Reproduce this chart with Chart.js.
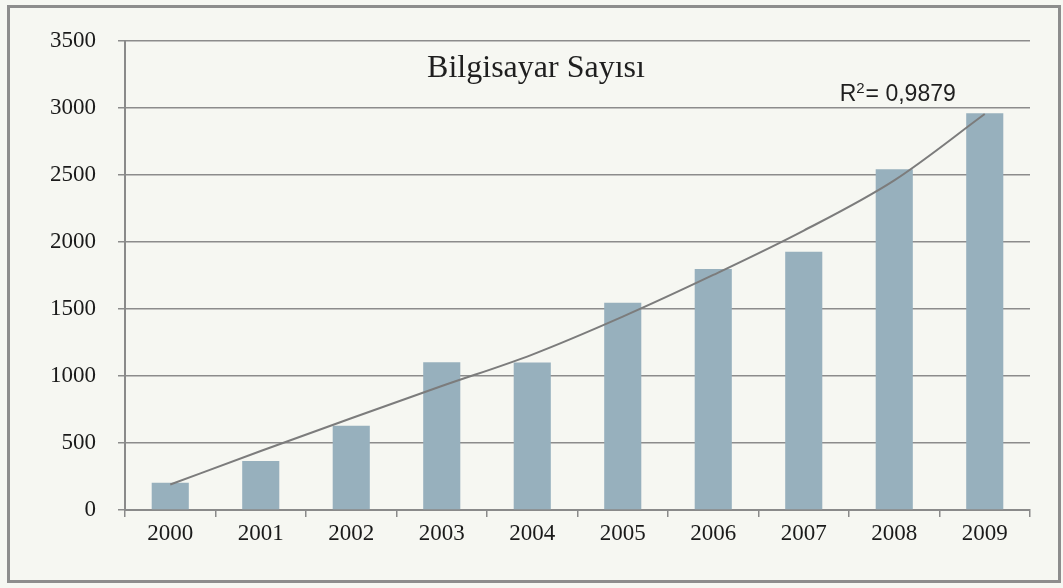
<!DOCTYPE html>
<html>
<head>
<meta charset="utf-8">
<script src="https://cdn.jsdelivr.net/npm/chart.js@4.4.1/dist/chart.umd.min.js"></script>
<style>
    html, body { margin: 0; padding: 0; background: #f6f7f2; }
    #wrap { position: relative; width: 1063px; height: 588px; }
    #frame {
        position: absolute; left: 7px; top: 5px; width: 1054px; height: 578px;
        box-sizing: border-box; border: 3px solid #8d8d8d;
    }
    #chart { position: absolute; left: 0; top: 0; }
</style>
</head>
<body>
<div id="wrap">
    <div id="frame"></div>
    <canvas id="chart" width="1063" height="588"></canvas>
</div>
<script>
// ===== DATA =====
const years = ['2000', '2001', '2002', '2003', '2004', '2005', '2006', '2007', '2008', '2009'];
const computers = [204, 366, 629, 1102, 1100, 1547, 1798, 1928, 2542, 2960];
const trendValues = [190, 440, 685, 925, 1160, 1443, 1754, 2085, 2460, 2955];
const yMin = 0, yMax = 3500, yStep = 500;
const chartTitle = 'Bilgisayar Sayısı';
const rSquaredParts = ['R', '2', '= 0,9879'];

const serif = '"Liberation Serif", "DejaVu Serif", serif';
const sans = '"Liberation Sans", Arial, sans-serif';

// draws the title inside the plot and the R² note next to the trend line end
const textPlugin = {
    id: 'texts',
    afterDatasetsDraw(chart) {
        const { ctx, chartArea } = chart;
        ctx.save();
        ctx.fillStyle = '#1f1f1f';
        ctx.font = `32px ${serif}`;
        ctx.textAlign = 'center';
        ctx.textBaseline = 'alphabetic';
        ctx.fillText(chartTitle, chartArea.left + 411, chartArea.top + 36);

        // R² label, superscript drawn by hand
        const pts = chart.getDatasetMeta(0).data;
        const last = pts[pts.length - 1];
        const big = `23px ${sans}`, small = `15px ${sans}`;
        ctx.textAlign = 'left';
        ctx.font = big;
        const wR = ctx.measureText(rSquaredParts[0]).width;
        const wRest = ctx.measureText(rSquaredParts[2]).width;
        ctx.font = small;
        const wSup = ctx.measureText(rSquaredParts[1]).width + 1;
        let x = last.x - 29 - (wR + wSup + wRest);
        const y = last.y - 13;
        ctx.font = big;
        ctx.fillText(rSquaredParts[0], x, y);
        x += wR;
        ctx.font = small;
        ctx.fillText(rSquaredParts[1], x, y - 8);
        x += wSup;
        ctx.font = big;
        ctx.fillText(rSquaredParts[2], x, y);
        ctx.restore();
    }
};

new Chart(document.getElementById('chart'), {
    type: 'bar',
    data: {
        labels: years,
        datasets: [
            {
                type: 'line', data: trendValues, borderColor: '#7c7c7c', borderWidth: 2,
                pointRadius: 0, cubicInterpolationMode: 'monotone', fill: false, order: 0
            },
            {
                type: 'bar', data: computers, backgroundColor: '#97b0bd',
                categoryPercentage: 1, barPercentage: 0.41, order: 1
            }
        ]
    },
    options: {
        responsive: false, animation: false,
        layout: { padding: { top: 41, right: 33, left: 0, bottom: 0 } },
        plugins: { legend: { display: false }, tooltip: { enabled: false } },
        scales: {
            x: {
                grid: { offset: true, drawOnChartArea: false, tickLength: 7, color: '#8a8a8a', lineWidth: 1.5 },
                border: { color: '#8a8a8a', width: 2 },
                ticks: { font: { family: serif, size: 23 }, color: '#1a1a1a', padding: 3 },
                afterFit(s) { s.height = 78; }
            },
            y: {
                min: yMin, max: yMax,
                ticks: {
                    stepSize: yStep, font: { family: serif, size: 23 }, color: '#1a1a1a', padding: 22,
                    callback: v => String(v)
                },
                grid: { color: '#8c8c8c', lineWidth: 1.5, tickLength: 7 },
                border: { color: '#8a8a8a', width: 2 },
                afterFit(s) { s.width = 125; }
            }
        }
    },
    plugins: [textPlugin]
});
</script>
</body>
</html>
